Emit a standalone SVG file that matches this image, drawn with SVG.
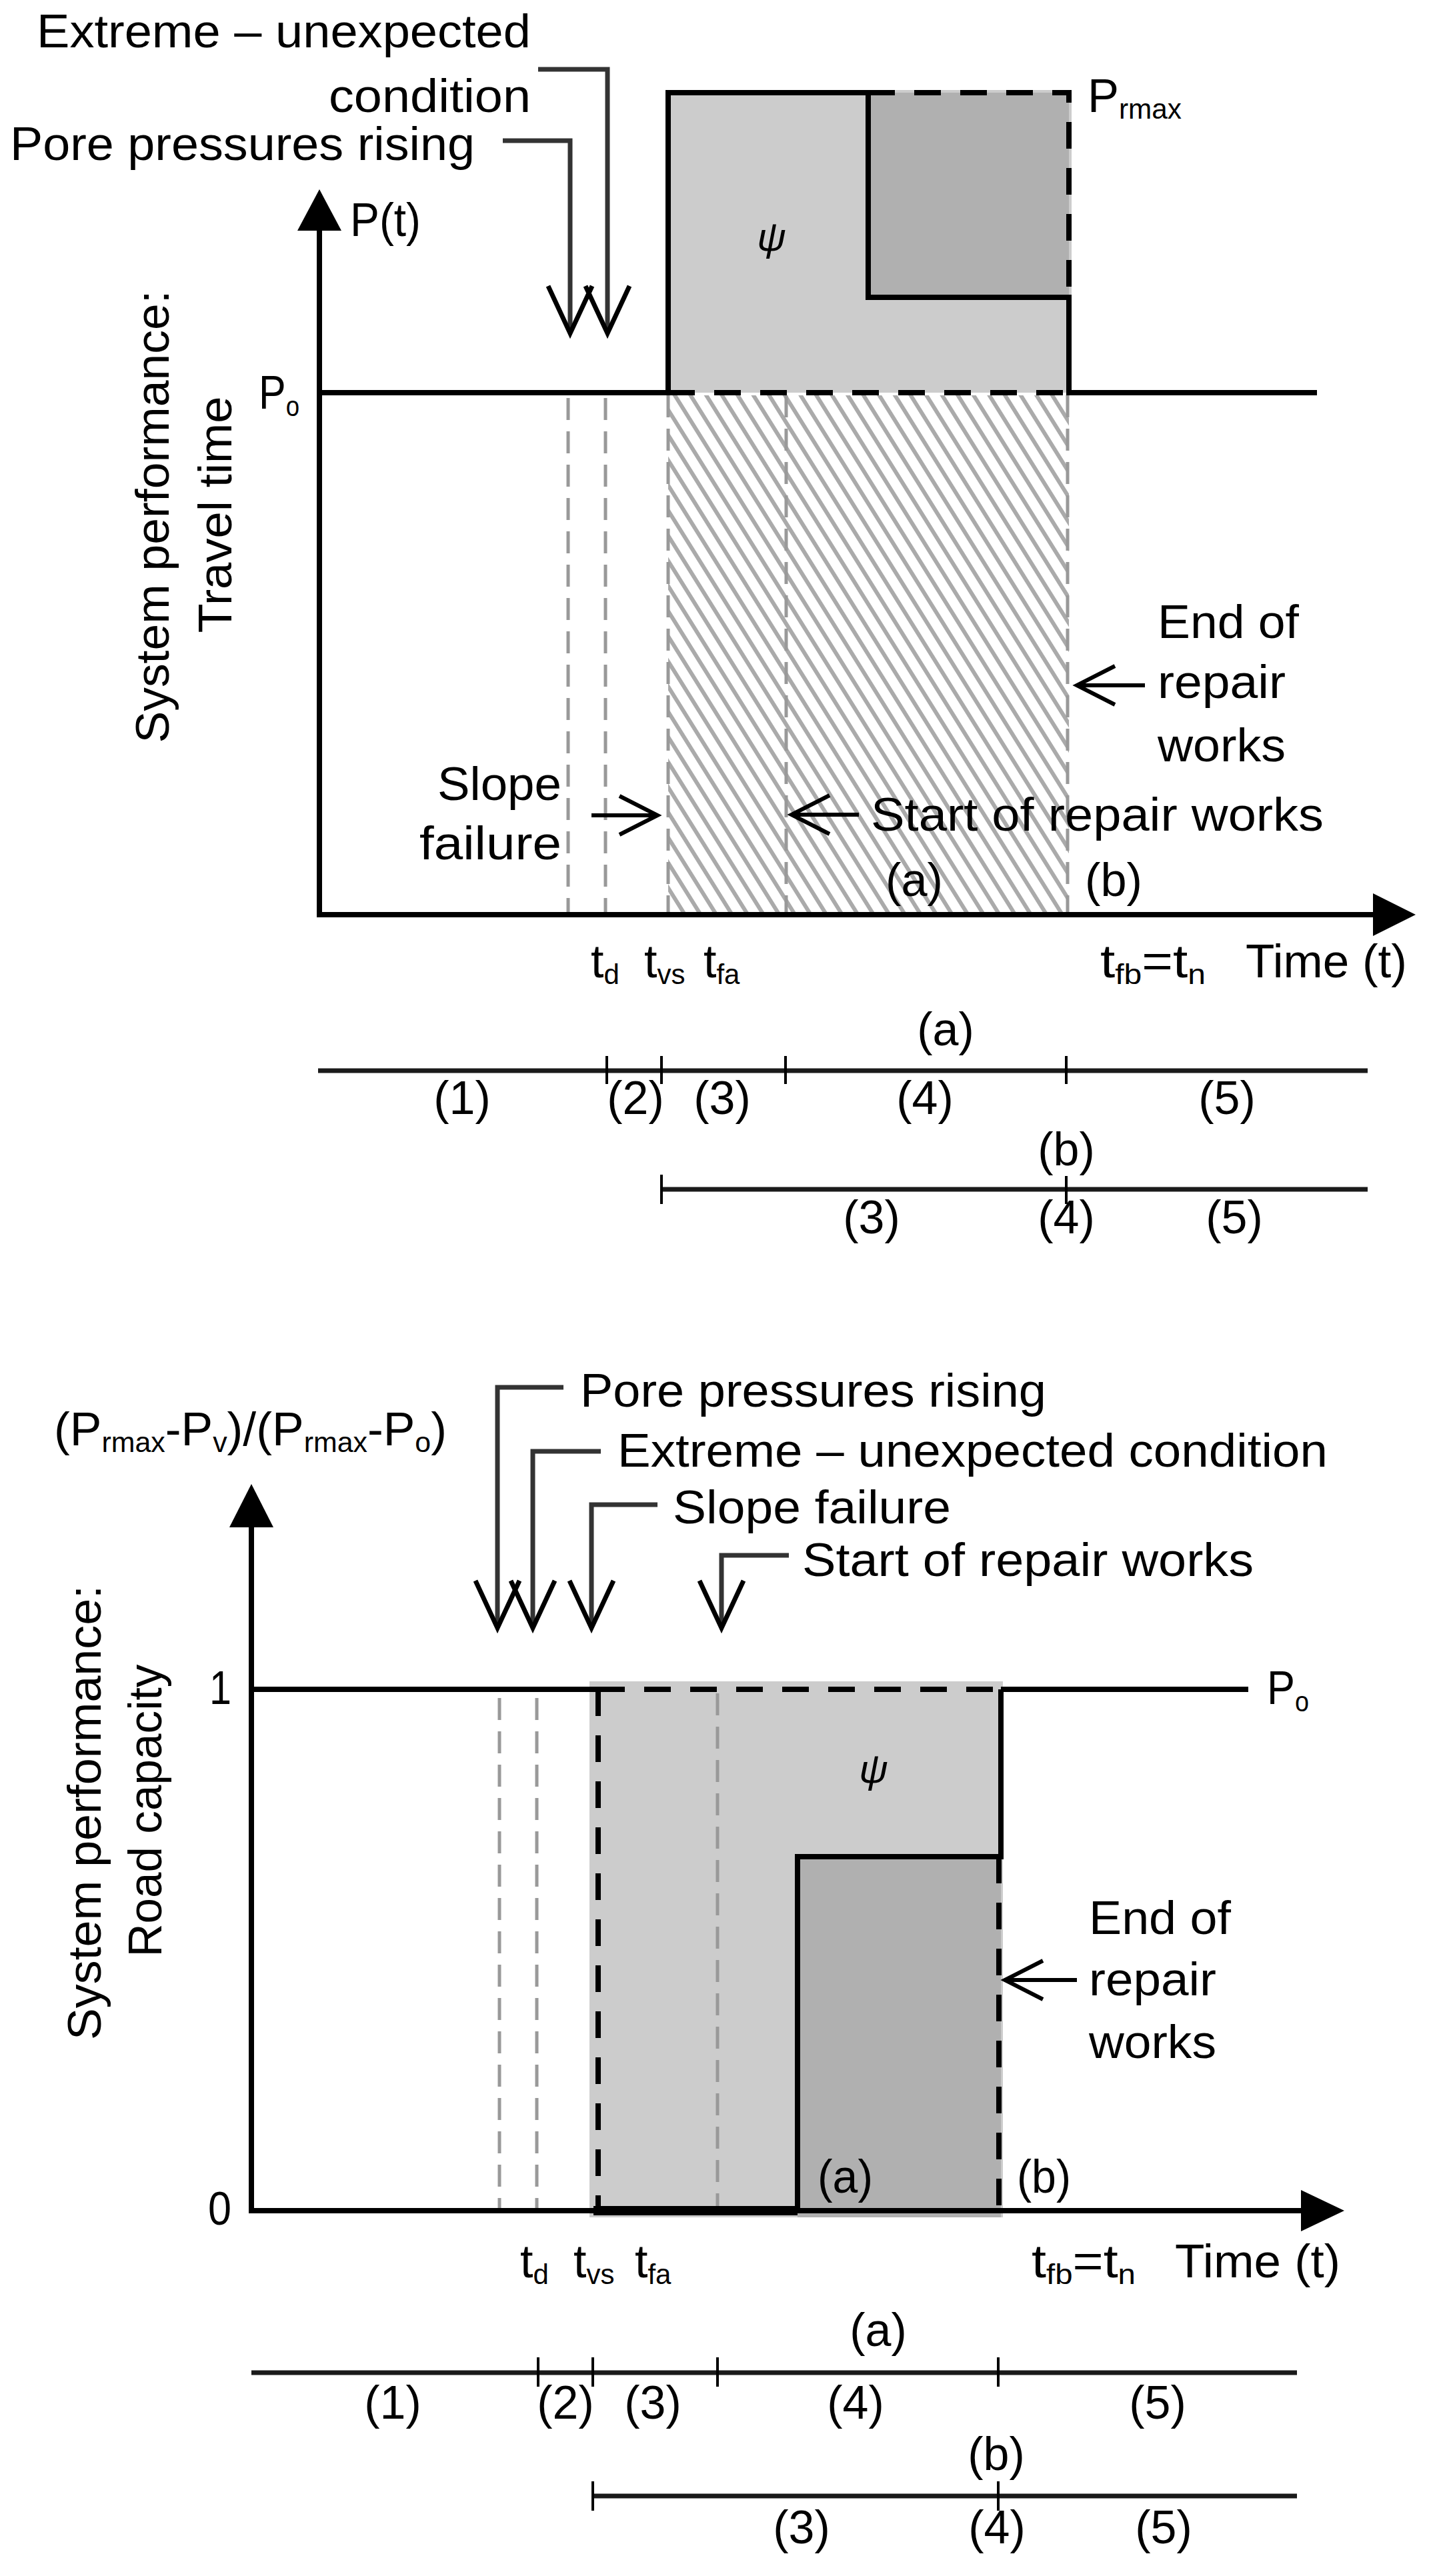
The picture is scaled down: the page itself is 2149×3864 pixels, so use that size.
<svg xmlns="http://www.w3.org/2000/svg" width="2149" height="3864" viewBox="0 0 2149 3864">
<style>
text{font-family:"Liberation Sans",Arial,sans-serif;font-size:70px;fill:#000}
.sub{font-size:42px}
.mid{text-anchor:middle}
.end{text-anchor:end}
.psi{font-size:60px;font-style:italic;text-anchor:middle}
.curve{fill:none;stroke:#000;stroke-width:8;stroke-linejoin:miter}
.bdash{fill:none;stroke:#000;stroke-width:8;stroke-dasharray:40 29}
.gdash{fill:none;stroke:#999;stroke-width:5;stroke-dasharray:33 17}
.axis{fill:none;stroke:#000;stroke-width:8}
.brk{fill:none;stroke:#333;stroke-width:7;marker-end:url(#vh)}
.arr{fill:none;stroke:#000;stroke-width:6;marker-end:url(#ah)}
.tl{fill:none;stroke:#1a1a1a;stroke-width:7}
.tick{fill:none;stroke:#000;stroke-width:4}
.light{fill:#cccccc}
.dark{fill:#b0b0b0}
</style>
<defs>
<marker id="vh" markerUnits="userSpaceOnUse" viewBox="-80 -40 90 80" refX="0" refY="0" markerWidth="90" markerHeight="80" orient="auto" overflow="visible"><path d="M-71,-33 L0,0 L-71,33" fill="none" stroke="#000" stroke-width="7"/></marker>
<marker id="ah" markerUnits="userSpaceOnUse" viewBox="-70 -35 80 70" refX="0" refY="0" markerWidth="80" markerHeight="70" orient="auto" overflow="visible"><path d="M-57,-29 L0,0 L-57,29" fill="none" stroke="#000" stroke-width="6"/></marker>
<pattern id="hatch" patternUnits="userSpaceOnUse" width="20" height="20" patternTransform="rotate(-32)"><rect width="20" height="20" fill="#fff"/><line x1="4" y1="0" x2="4" y2="20" stroke="#aaa" stroke-width="6"/></pattern>
</defs>
<rect width="2149" height="3864" fill="#fff"/>

<!-- ================= TOP CHART ================= -->
<g id="top-chart">
  <g id="top-areas">
    <rect class="light" x="998" y="135" width="609" height="454"/>
    <rect class="dark" x="1302" y="139" width="301" height="307"/>
    <rect x="1002" y="593" width="601" height="775" fill="url(#hatch)"/>
  </g>
  <g id="top-guides">
    <path class="gdash" d="M852,597 V1368 M908,597 V1368 M1002,593 V1368 M1179,593 V1368 M1601,593 V1368"/>
  </g>
  <g id="top-axes">
    <path class="axis" d="M479,1372 V340"/>
    <polygon points="479,284 446,346 512,346"/>
    <path class="axis" d="M475,1372 H2065"/>
    <polygon points="2123,1372 2059,1340 2059,1404"/>
  </g>
  <g id="top-curve">
    <path class="curve" d="M479,589 H1002 V139 H1302 V446 H1603 V589 H1975"/>
    <path class="bdash" d="M1002,589 H1603"/>
    <path class="bdash" d="M1302,139 H1603 V446"/>
  </g>
  <g id="top-labels">
    <text x="525" y="354" textLength="106" lengthAdjust="spacingAndGlyphs">P(t)</text>
    <text x="388" y="613" textLength="61" lengthAdjust="spacingAndGlyphs">P<tspan class="sub" dy="11">o</tspan></text>
    <text x="1631" y="168" textLength="141" lengthAdjust="spacingAndGlyphs">P<tspan class="sub" dy="10">rmax</tspan></text>
    <text class="psi" x="1157" y="376">ψ</text>
    <text transform="translate(253,775) rotate(-90)" class="mid" textLength="679" lengthAdjust="spacingAndGlyphs">System performance:</text>
    <text transform="translate(347,772) rotate(-90)" class="mid" textLength="355" lengthAdjust="spacingAndGlyphs">Travel time</text>
    <text x="1328" y="1344" textLength="86" lengthAdjust="spacingAndGlyphs">(a)</text>
    <text x="1627" y="1344" textLength="86" lengthAdjust="spacingAndGlyphs">(b)</text>
  </g>
  <g id="top-time-labels">
    <text x="886" y="1466">t<tspan class="sub" dy="10">d</tspan></text>
    <text x="966" y="1466">t<tspan class="sub" dy="10">vs</tspan></text>
    <text x="1055" y="1466">t<tspan class="sub" dy="10">fa</tspan></text>
    <text x="1650" y="1466" textLength="158" lengthAdjust="spacingAndGlyphs">t<tspan class="sub" dy="10">fb</tspan><tspan dy="-10">=t</tspan><tspan class="sub" dy="10">n</tspan></text>
    <text x="1868" y="1466" textLength="242" lengthAdjust="spacingAndGlyphs">Time (t)</text>
  </g>
  <g id="top-annot-extreme">
    <path class="brk" d="M807,104 H911 V500"/>
    <text x="55" y="71" textLength="741" lengthAdjust="spacingAndGlyphs">Extreme – unexpected</text>
    <text x="493" y="168" textLength="303" lengthAdjust="spacingAndGlyphs">condition</text>
  </g>
  <g id="top-annot-pore">
    <path class="brk" d="M754,211 H855 V500"/>
    <text x="15" y="240" textLength="697" lengthAdjust="spacingAndGlyphs">Pore pressures rising</text>
  </g>
  <g id="top-annot-slope">
    <path class="arr" d="M887,1223 H986"/>
    <text class="end" x="842" y="1200" textLength="186" lengthAdjust="spacingAndGlyphs">Slope</text>
    <text class="end" x="842" y="1289" textLength="213" lengthAdjust="spacingAndGlyphs">failure</text>
  </g>
  <g id="top-annot-start">
    <path class="arr" d="M1288,1222 H1187"/>
    <text x="1306" y="1246" textLength="679" lengthAdjust="spacingAndGlyphs">Start of repair works</text>
  </g>
  <g id="top-annot-end">
    <path class="arr" d="M1717,1028 H1615"/>
    <text x="1736" y="957" textLength="212" lengthAdjust="spacingAndGlyphs">End of</text>
    <text x="1736" y="1047" textLength="192" lengthAdjust="spacingAndGlyphs">repair</text>
    <text x="1736" y="1142" textLength="192" lengthAdjust="spacingAndGlyphs">works</text>
  </g>
  <g id="top-timeline-a">
    <path class="tl" d="M477,1606 H2051"/>
    <path class="tick" d="M910,1584 V1626 M992,1584 V1626 M1178,1584 V1626 M1599,1584 V1626"/>
    <text class="mid" x="1418" y="1568">(a)</text>
    <text class="mid" x="693" y="1671">(1)</text>
    <text class="mid" x="953" y="1671">(2)</text>
    <text class="mid" x="1083" y="1671">(3)</text>
    <text class="mid" x="1387" y="1671">(4)</text>
    <text class="mid" x="1840" y="1671">(5)</text>
  </g>
  <g id="top-timeline-b">
    <path class="tl" d="M992,1784 H2051"/>
    <path class="tick" d="M992,1762 V1806 M1599,1764 V1806"/>
    <text class="mid" x="1599" y="1748">(b)</text>
    <text class="mid" x="1307" y="1850">(3)</text>
    <text class="mid" x="1599" y="1850">(4)</text>
    <text class="mid" x="1851" y="1850">(5)</text>
  </g>
</g>

<!-- ================= BOTTOM CHART ================= -->
<g id="bottom-chart">
  <g id="bot-areas">
    <rect class="light" x="884" y="2522" width="620" height="804"/>
    <rect class="dark" x="1196" y="2785" width="305" height="541"/>
  </g>
  <g id="bot-guides">
    <path class="gdash" d="M749,2547 V3312 M805,2547 V3312 M1076,2540 V3312"/>
  </g>
  <g id="bot-axes">
    <path class="axis" d="M377,3320 V2285"/>
    <polygon points="377,2226 344,2291 410,2291"/>
    <path class="axis" d="M373,3316 H1957"/>
    <polygon points="2016,3316 1951,3285 1951,3347"/>
  </g>
  <g id="bot-curve">
    <path class="curve" d="M377,2534 H897"/>
    <path class="curve" d="M1501,2534 H1872"/>
    <path class="curve" d="M1196,3316 V2785 H1501 V2534"/>
    <path class="curve" d="M890,3316 H1196" style="stroke-width:14"/>
    <path class="bdash" d="M897,2534 H1501"/>
    <path class="bdash" d="M897,2534 V3316"/>
    <path class="bdash" d="M1498,2785 V3316"/>
  </g>
  <g id="bot-labels">
    <text x="81" y="2168" textLength="589" lengthAdjust="spacingAndGlyphs">(P<tspan class="sub" dy="10">rmax</tspan><tspan dy="-10">-P</tspan><tspan class="sub" dy="10">v</tspan><tspan dy="-10">)/(P</tspan><tspan class="sub" dy="10">rmax</tspan><tspan dy="-10">-P</tspan><tspan class="sub" dy="10">o</tspan><tspan dy="-10">)</tspan></text>
    <text transform="translate(151,2719) rotate(-90)" class="mid" textLength="682" lengthAdjust="spacingAndGlyphs">System performance:</text>
    <text transform="translate(242,2716) rotate(-90)" class="mid" textLength="439" lengthAdjust="spacingAndGlyphs">Road capacity</text>
    <text x="314" y="2556" textLength="33" lengthAdjust="spacingAndGlyphs">1</text>
    <text x="312" y="3337" textLength="35" lengthAdjust="spacingAndGlyphs">0</text>
    <text x="1900" y="2556" textLength="63" lengthAdjust="spacingAndGlyphs">P<tspan class="sub" dy="11">o</tspan></text>
    <text class="psi" x="1310" y="2674">ψ</text>
    <text x="1226" y="3289" textLength="83" lengthAdjust="spacingAndGlyphs">(a)</text>
    <text x="1525" y="3289" textLength="81" lengthAdjust="spacingAndGlyphs">(b)</text>
  </g>
  <g id="bot-time-labels">
    <text x="780" y="3416">t<tspan class="sub" dy="10">d</tspan></text>
    <text x="860" y="3416">t<tspan class="sub" dy="10">vs</tspan></text>
    <text x="952" y="3416">t<tspan class="sub" dy="10">fa</tspan></text>
    <text x="1547" y="3416" textLength="156" lengthAdjust="spacingAndGlyphs">t<tspan class="sub" dy="10">fb</tspan><tspan dy="-10">=t</tspan><tspan class="sub" dy="10">n</tspan></text>
    <text x="1762" y="3416" textLength="248" lengthAdjust="spacingAndGlyphs">Time (t)</text>
  </g>
  <g id="bot-annot-pore">
    <path class="brk" d="M845,2081 H746 V2442"/>
    <text x="870" y="2110" textLength="699" lengthAdjust="spacingAndGlyphs">Pore pressures rising</text>
  </g>
  <g id="bot-annot-extreme">
    <path class="brk" d="M901,2177 H799 V2442"/>
    <text x="926" y="2200" textLength="1065" lengthAdjust="spacingAndGlyphs">Extreme – unexpected condition</text>
  </g>
  <g id="bot-annot-slope">
    <path class="brk" d="M986,2257 H887 V2442"/>
    <text x="1009" y="2285" textLength="417" lengthAdjust="spacingAndGlyphs">Slope failure</text>
  </g>
  <g id="bot-annot-start">
    <path class="brk" d="M1183,2333 H1082 V2442"/>
    <text x="1203" y="2364" textLength="677" lengthAdjust="spacingAndGlyphs">Start of repair works</text>
  </g>
  <g id="bot-annot-end">
    <path class="arr" d="M1615,2970 H1507"/>
    <text x="1633" y="2901" textLength="213" lengthAdjust="spacingAndGlyphs">End of</text>
    <text x="1633" y="2993" textLength="191" lengthAdjust="spacingAndGlyphs">repair</text>
    <text x="1633" y="3087" textLength="191" lengthAdjust="spacingAndGlyphs">works</text>
  </g>
  <g id="bot-timeline-a">
    <path class="tl" d="M377,3559 H1945"/>
    <path class="tick" d="M807,3536 V3580 M889,3536 V3580 M1076,3536 V3580 M1497,3536 V3580"/>
    <text class="mid" x="1317" y="3519">(a)</text>
    <text class="mid" x="589" y="3628">(1)</text>
    <text class="mid" x="848" y="3628">(2)</text>
    <text class="mid" x="979" y="3628">(3)</text>
    <text class="mid" x="1283" y="3628">(4)</text>
    <text class="mid" x="1736" y="3628">(5)</text>
  </g>
  <g id="bot-timeline-b">
    <path class="tl" d="M889,3744 H1945"/>
    <path class="tick" d="M889,3722 V3766 M1497,3722 V3766"/>
    <text class="mid" x="1494" y="3705">(b)</text>
    <text class="mid" x="1202" y="3815">(3)</text>
    <text class="mid" x="1495" y="3815">(4)</text>
    <text class="mid" x="1745" y="3815">(5)</text>
  </g>
</g>
</svg>
